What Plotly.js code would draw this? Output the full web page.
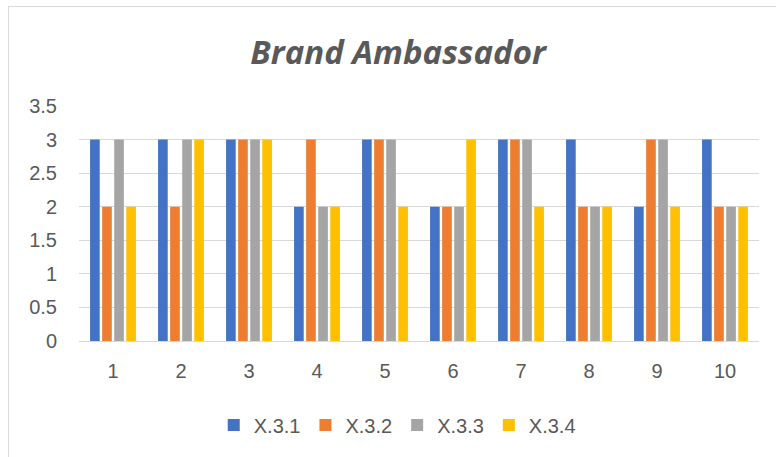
<!DOCTYPE html>
<html>
<head>
<meta charset="utf-8">
<script src="https://cdn.plot.ly/plotly-3.0.1.min.js"></script>
<style>
html,body{margin:0;padding:0;background:#fff;overflow:hidden;}
#frame{position:absolute;left:8px;top:6px;width:800px;height:500px;border:1px solid #d9d9d9;box-sizing:border-box;}
#chart{position:absolute;left:0;top:0;width:776px;height:457px;}
</style>
</head>
<body>
<div id="frame"></div>
<div id="chart"></div>
<script>
const categories = ["1","2","3","4","5","6","7","8","9","10"];
const seriesNames = ["X.3.1","X.3.2","X.3.3","X.3.4"];
const x31 = [3,3,3,2,3,2,3,3,2,3];
const x32 = [2,2,3,3,3,2,3,2,3,2];
const x33 = [3,3,3,2,3,2,3,2,3,2];
const x34 = [2,3,3,2,2,3,2,2,2,2];
const colors = ["#4472c4","#ed7d31","#a5a5a5","#ffc000"];
const yTicks = [0,0.5,1,1.5,2,2.5,3,3.5];
const yTickText = ["0","0.5","1","1.5","2","2.5","3","3.5"];

const data = [x31,x32,x33,x34].map((v,i)=>({
  type:"bar", name:seriesNames[i], x:categories, y:v,
  marker:{color:colors[i]}, hoverinfo:"skip"
}));
const fontFam = "Liberation Sans, Arial, sans-serif";
const layout = {
  width:776, height:457,
  paper_bgcolor:"rgba(0,0,0,0)", plot_bgcolor:"rgba(0,0,0,0)",
  margin:{l:79,r:17,t:106,b:116},
  barmode:"group", bargap:0.29, bargroupgap:0.2,
  title:{text:"<b><i>Brand Ambassador</i></b>", x:0.513, xanchor:"center", y:0.886, yanchor:"middle",
    font:{family:"Open Sans, sans-serif", size:33, color:"#595959"}},
  xaxis:{type:"category", showgrid:false, showline:false, zeroline:false, ticks:"", ticklabelstandoff:16,
    tickfont:{family:fontFam,size:20,color:"#595959"}},
  yaxis:{range:[0,3.5], tickvals:yTicks, ticktext:yTickText, showgrid:true, gridcolor:"#d9d9d9", gridwidth:1,
    zeroline:true, zerolinecolor:"#d9d9d9", zerolinewidth:1, showline:false, ticks:"", ticklabelstandoff:21,
    tickfont:{family:fontFam,size:20,color:"#595959"}},
  legend:{orientation:"h", x:0.468, xanchor:"center", y:-0.357, yanchor:"middle",
    font:{family:fontFam,size:20,color:"#595959"}, itemwidth:30, tracegroupgap:0},
  showlegend:true
};
Plotly.newPlot("chart", data, layout, {displayModeBar:false, staticPlot:true});
</script>
</body>
</html>
